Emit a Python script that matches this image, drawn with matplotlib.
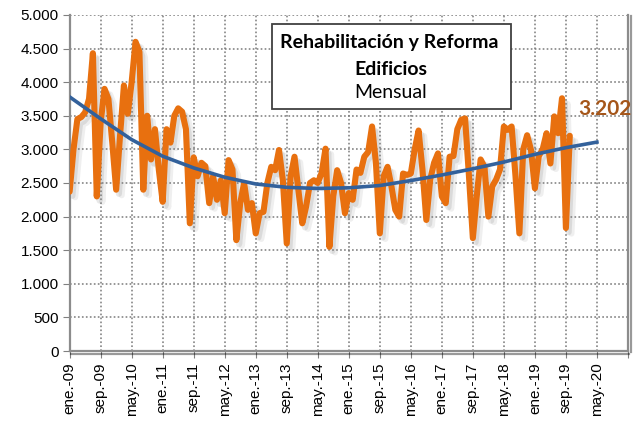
import numpy as np
import matplotlib.pyplot as plt
import matplotlib.patheffects as pe
from matplotlib.patches import Rectangle

# ==========================
# Datos (mensual, ene-09 .. oct-19)
# ==========================
valores = [
    2370, 3000, 3450, 3480, 3550, 3750, 4430, 2300, 3400, 3900,
    3750, 3100, 2400, 3200, 3950, 3530, 4000, 4600, 4450, 2400,
    3500, 2850, 3300, 2700, 2220, 3300, 3100, 3500, 3610, 3560,
    3300, 1900, 2880, 2600, 2800, 2750, 2200, 2600, 2250, 2540,
    2050, 2840, 2700, 1650, 2200, 2500, 2100, 2200, 1750, 2050,
    2070, 2500, 2740, 2690, 2990, 2540, 1600, 2600, 2890, 2400,
    1900, 2150, 2500, 2540, 2500, 2650, 3010, 1550, 2300, 2690,
    2500, 2050, 2350, 2250, 2700, 2650, 2890, 2960, 3340, 2800,
    1750, 2600, 2740, 2450, 2100, 2000, 2640, 2620, 2640, 3000,
    3280, 2700, 1950, 2550, 2800, 2940, 2300, 2200, 2890, 2900,
    3300, 3440, 3460, 2600, 1680, 2300, 2850, 2740, 2000, 2450,
    2550, 2700, 3340, 3290, 3340, 2600, 1750, 3000, 3210, 2990,
    2420, 2900, 3000, 3240, 2790, 3490, 3240, 3760, 1830, 3202,
]
# linea de tendencia (cada 8 meses)
tend_meses = [0, 8, 16, 24, 32, 40, 48, 56, 64, 72, 80, 88, 96, 104, 112, 120, 128, 136]
tend_valores = [3780, 3455, 3145, 2898, 2724, 2585, 2485, 2435, 2418, 2428,
                2462, 2536, 2619, 2711, 2812, 2926, 3025, 3108]

etiquetas_x = ['ene.-09', 'sep.-09', 'may.-10', 'ene.-11', 'sep.-11', 'may.-12',
               'ene.-13', 'sep.-13', 'may.-14', 'ene.-15', 'sep.-15', 'may.-16',
               'ene.-17', 'sep.-17', 'may.-18', 'ene.-19', 'sep.-19', 'may.-20']
etiquetas_y = ['0', '500', '1.000', '1.500', '2.000', '2.500', '3.000',
               '3.500', '4.000', '4.500', '5.000']
titulo = ['Rehabilitación y Reforma', 'Edificios', 'Mensual']
ultimo = '3.202'

# ==========================
# Figura
# ==========================
meses = np.arange(len(valores))

fig = plt.figure(figsize=(6.33, 4.26), dpi=100)
ax = fig.add_axes([0.110, 0.176, 0.882, 0.789])

# sombra suave: dos capas desplazadas
sombra = [pe.SimpleLineShadow(offset=(4, -4), shadow_color='0.5', alpha=0.12),
          pe.SimpleLineShadow(offset=(2, -3), shadow_color='0.5', alpha=0.18),
          pe.Normal()]
ax.plot(meses, valores, color='#E8700F', lw=4.4, solid_joinstyle='round',
        solid_capstyle='round', path_effects=sombra, zorder=3)
ax.plot(tend_meses, tend_valores, color='#33619B', lw=2.6, zorder=4,
        solid_joinstyle='round')

ax.set_xlim(0, 144)
ax.set_ylim(0, 5000)
ax.set_xticks(np.arange(0, 145, 8))
ax.set_xticklabels(etiquetas_x + [''], rotation=90, fontsize=11,
                   family='Liberation Sans')
ax.set_yticks(np.arange(0, 5001, 500))
ax.set_yticklabels(etiquetas_y, fontsize=11, family='Liberation Sans')
ax.tick_params(axis='both', direction='out', length=5, color='#808080', pad=3)

ax.grid(True, color='#7a7a7a', linestyle=(0, (1.1, 1.5)), lw=1.1)
ax.set_axisbelow(True)
for lado in ['left', 'bottom', 'right']:
    ax.spines[lado].set_color('#8c8c8c')
    ax.spines[lado].set_linewidth(1.6)
ax.spines['top'].set_visible(False)
ax.spines['bottom'].set_path_effects([pe.SimpleLineShadow(offset=(1, -2), alpha=0.4), pe.Normal()])
ax.spines['right'].set_path_effects([pe.SimpleLineShadow(offset=(2, -1), alpha=0.4), pe.Normal()])

# Cuadro de titulo
ax.add_patch(Rectangle((0.3625, 0.720), 0.428, 0.253, transform=ax.transAxes,
                       fc='white', ec='#404040', lw=1.3, zorder=5))
ax.text(0.572, 0.919, titulo[0], transform=ax.transAxes, ha='center', va='center',
        fontsize=14, fontweight='bold', family='Lato', zorder=6)
ax.text(0.575, 0.839, titulo[1], transform=ax.transAxes, ha='center', va='center',
        fontsize=14, fontweight='bold', family='Lato', zorder=6)
ax.text(0.575, 0.768, titulo[2], transform=ax.transAxes, ha='center', va='center',
        fontsize=14, family='Lato', zorder=6)

ax.annotate(ultimo, xy=(meses[-1], valores[-1]), xytext=(6, 19),
            textcoords='offset points', ha='left', va='center',
            fontsize=15, fontweight='bold', color='#A5561A', family='Lato',
            annotation_clip=False)

fig.savefig('out.png', dpi=100)
